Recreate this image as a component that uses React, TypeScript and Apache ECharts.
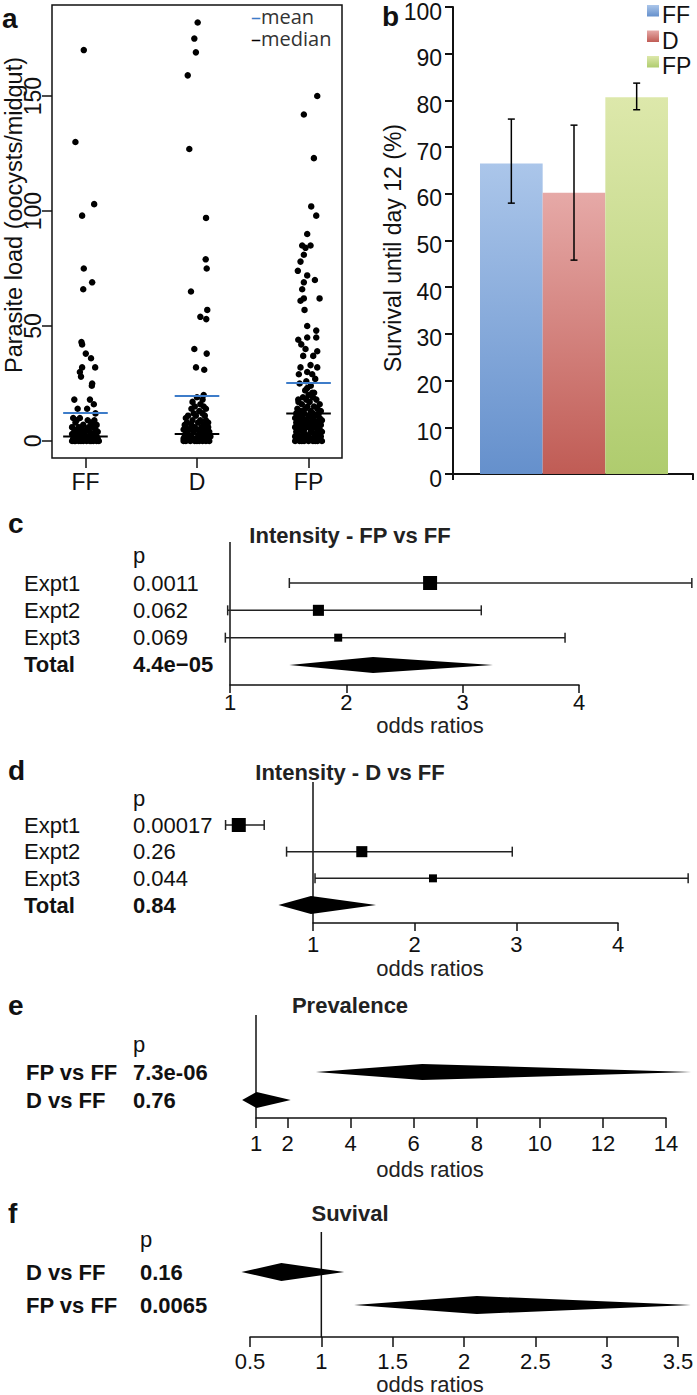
import React, { useEffect, useRef } from "react";
import * as echarts from "echarts";

const FONT = "'Liberation Sans', Arial, Helvetica, sans-serif";
const INK = "#111";

// ---------- Panel a: parasite load (jitter offset, oocysts/midgut) ----------
const groupNames = ["FF", "D", "FP"];
const ffLoad: number[][] = [
  [-0.015, 170], [-0.09, 130], [0.078, 103], [-0.03, 98], [-0.015, 75], [0.06, 69], [-0.02, 66],
  [-0.036, 43], [-0.03, 42], [0.003, 38], [0.05, 36], [-0.03, 32], [0.087, 32], [-0.05, 30],
  [-0.04, 28], [0.06, 25], [0.057, 24], [-0.1, 18], [0.04, 18], [-0.07, 14], [0.015, 14],
  [0.075, 16], [0.09, 12],
  [-0.11, 10], [-0.05, 10], [0.02, 9], [0.08, 9], [-0.09, 8], [0.05, 8], [-0.02, 7], [0.1, 7],
  [-0.12, 6], [-0.06, 6], [0.03, 6], [0.07, 6], [-0.1, 5], [-0.03, 5], [0.01, 5], [0.09, 5],
  [-0.08, 4], [-0.04, 4], [0.04, 4], [0.11, 4], [-0.12, 3], [-0.07, 3], [-0.01, 3], [0.05, 3],
  [0.08, 3], [-0.1, 2], [-0.05, 2], [0, 2], [0.03, 2], [0.07, 2], [0.1, 2], [-0.11, 1],
  [-0.08, 1], [-0.03, 1], [0.02, 1], [0.06, 1], [0.09, 1], [-0.12, 0], [-0.09, 0], [-0.06, 0],
  [-0.02, 0], [0.01, 0], [0.04, 0], [0.07, 0], [0.1, 0], [0.12, 0], [-0.1, 0], [-0.04, 0],
  [0.05, 0], [-0.07, 1], [0.11, 1], [-0.01, 4], [0.06, 7], [-0.08, 9],
];
const dLoad: number[][] = [
  [0.006, 182], [-0.024, 175], [-0.01, 169], [-0.083, 159], [-0.069, 127], [0.081, 97],
  [0.078, 79], [0.087, 75], [-0.054, 65], [0.092, 57], [0.03, 54], [0.083, 53], [-0.024, 40],
  [0.087, 38], [-0.009, 32], [0.065, 31], [0.06, 20],
  [0.0, 19], [0.05, 18], [-0.04, 17], [0.03, 16], [-0.02, 15], [0.06, 15], [-0.05, 14],
  [0.02, 13], [0.08, 14], [-0.03, 12], [0.05, 12], [-0.08, 11], [-0.01, 11], [0.07, 11],
  [-0.1, 10], [-0.04, 9], [0.03, 9], [0.08, 9], [-0.09, 8], [0.01, 8], [0.1, 8], [-0.11, 7],
  [-0.05, 7], [0.06, 7], [-0.1, 6], [-0.02, 6], [0.04, 6], [0.1, 6], [-0.12, 5], [-0.07, 5],
  [0.0, 5], [0.08, 5], [-0.1, 4], [-0.03, 4], [0.05, 4], [0.11, 4], [-0.08, 3], [0.02, 3],
  [0.09, 3], [-0.11, 2], [-0.05, 2], [0.01, 2], [0.06, 2], [0.12, 2], [-0.12, 1], [-0.07, 1],
  [-0.02, 1], [0.04, 1], [0.09, 1], [-0.1, 0], [-0.06, 0], [-0.02, 0], [0.02, 0], [0.05, 0],
  [0.08, 0], [0.11, 0], [-0.12, 0], [0.0, 0],
];
const fpLoad: number[][] = [
  [0.078, 150], [-0.042, 142], [0.048, 123], [0.024, 102], [0.069, 98], [-0.012, 90],
  [-0.057, 85], [0.018, 85], [-0.027, 84], [-0.042, 81], [-0.072, 78], [-0.096, 74],
  [-0.012, 72], [0.057, 70], [-0.042, 69], [-0.057, 66], [-0.072, 61], [-0.042, 62],
  [0.099, 62], [-0.036, 57], [-0.012, 50], [0.069, 48], [-0.092, 44], [-0.012, 45],
  [0.069, 45], [-0.065, 42], [-0.027, 40], [0.078, 39], [-0.048, 37], [0.042, 37],
  [-0.072, 32], [0.018, 33], [0.078, 32], [-0.087, 29], [-0.012, 30], [0.033, 29],
  [-0.012, 23], [0.033, 21], [-0.092, 18],
  [0.02, 24], [-0.03, 22], [0.05, 21], [0.0, 20], [-0.05, 19], [0.04, 19], [-0.02, 18],
  [0.07, 18], [-0.09, 17], [0.01, 17], [0.1, 16], [-0.06, 16], [-0.01, 15], [0.05, 15],
  [-0.1, 14], [-0.03, 14], [0.08, 14], [-0.07, 13], [0.02, 13], [0.11, 13], [-0.11, 12],
  [-0.04, 12], [0.04, 12], [0.09, 12], [-0.08, 11], [0.0, 11], [0.06, 11], [-0.12, 10],
  [-0.05, 10], [0.03, 10], [0.1, 10], [-0.09, 9], [-0.02, 9], [0.05, 9], [0.12, 9],
  [-0.11, 8], [-0.06, 8], [0.01, 8], [0.08, 8], [-0.1, 7], [-0.03, 7], [0.04, 7], [0.11, 7],
  [-0.12, 6], [-0.07, 6], [0.0, 6], [0.07, 6], [-0.09, 5], [-0.04, 5], [0.03, 5], [0.1, 5],
  [-0.11, 4], [-0.05, 4], [0.02, 4], [0.08, 4], [0.12, 4], [-0.1, 3], [-0.03, 3], [0.05, 3],
  [0.1, 3], [-0.12, 2], [-0.07, 2], [0.0, 2], [0.06, 2], [0.11, 2], [-0.1, 1], [-0.04, 1],
  [0.03, 1], [0.09, 1], [-0.12, 0], [-0.08, 0], [-0.04, 0], [0.0, 0], [0.04, 0], [0.08, 0],
  [0.12, 0], [-0.06, 0], [0.06, 0], [-0.02, 26], [0.06, 27], [-0.08, 25],
];
const loadMeans = [12.2, 19.6, 25.2];
const loadMedians = [2, 3, 12];
const loadTicks = [0, 50, 100, 150];
const loadTitle = "Parasite load (oocysts/midgut)";
const loadLegend = ["mean", "median"];

// ---------- Panel b: survival ----------
const survGroups = ["FF", "D", "FP"];
const survValues = [66.5, 60.2, 80.7];
const survLower = [58.0, 45.8, 78.0];
const survUpper = [76.0, 74.7, 83.7];
const survTitle = "Survival until day 12 (%)";

// ---------- Panels c-f: forest plots ----------
const cNames = ["Expt1", "Expt2", "Expt3", "Total"];
const cPvals = ["0.0011", "0.062", "0.069", "4.4e\u221205"];
const cOR = [2.72, 1.76, 1.93, 2.23];
const cLow = [1.51, 0.98, 0.96, 1.51];
const cHigh = [4.97, 3.16, 3.88, 3.26];
const cWeights = [1, 0.79, 0.57, 0];
const cTicks = [1, 2, 3, 4];

const dNames = ["Expt1", "Expt2", "Expt3", "Total"];
const dPvals = ["0.00017", "0.26", "0.044", "0.84"];
const dOR = [0.27, 1.48, 2.18, 0.98];
const dLow = [0.14, 0.74, 1.02, 0.66];
const dHigh = [0.52, 2.96, 4.69, 1.62];
const dWeights = [1, 0.79, 0.57, 0];
const dTicks = [1, 2, 3, 4];

const eNames = ["FP vs FF", "D vs FF"];
const ePvals = ["7.3e-06", "0.76"];
const eOR = [6.27, 1.02];
const eLow = [2.9, 0.56];
const eHigh = [14.8, 2.1];
const eWeights = [0, 0];
const eTicks = [1, 2, 4, 6, 8, 10, 12, 14];

const fNames = ["D vs FF", "FP vs FF"];
const fPvals = ["0.16", "0.0065"];
const fOR = [0.72, 2.09];
const fLow = [0.44, 1.23];
const fHigh = [1.16, 3.59];
const fWeights = [0, 0];
const fTicks = [0.5, 1, 1.5, 2, 2.5, 3, 3.5];

const forestTitles = ["Intensity - FP vs FF", "Intensity - D vs FF", "Prevalence", "Suvival"];
const forestXLabel = "odds ratios";

// ---------- layout / style ----------
const MEAN_BLUE = "#3d7cc9";
const HALF_LINE = 0.2;
const BOX_MAX = 14;

const barColors = [
  ["#abc6ea", "#6590cc"],
  ["#e6a9a7", "#c05c55"],
  ["#dde8ab", "#afcc6e"],
];

const forestLayout = [
  { letter: "c", left: 230, width: 349, top: 542, bottom: 685, row1: 583, rowPx: 27.33, nameX: 24, pX: 133, tickLen: 8, margin: 6, half: 8, titleY: 535, letterY: 523, xlabY: 725, allBold: false },
  { letter: "d", left: 313, width: 305, top: 782, bottom: 923, row1: 825, rowPx: 26.67, nameX: 24, pX: 133, tickLen: 8, margin: 10, half: 9, titleY: 772, letterY: 770, xlabY: 968, allBold: false },
  { letter: "e", left: 256, width: 410, top: 1015, bottom: 1118, row1: 1072, rowPx: 28, nameX: 26, pX: 133, tickLen: 10, margin: 14, half: 8, titleY: 1005, letterY: 1005, xlabY: 1169, allBold: true },
  { letter: "f", left: 250, width: 428, top: 1232, bottom: 1337, row1: 1272, rowPx: 33, nameX: 26, pX: 140, tickLen: 10, margin: 13, half: 9, titleY: 1213, letterY: 1213, xlabY: 1384, allBold: true },
];

const forestData = [
  { names: cNames, p: cPvals, or: cOR, lo: cLow, hi: cHigh, w: cWeights, ticks: cTicks },
  { names: dNames, p: dPvals, or: dOR, lo: dLow, hi: dHigh, w: dWeights, ticks: dTicks },
  { names: eNames, p: ePvals, or: eOR, lo: eLow, hi: eHigh, w: eWeights, ticks: eTicks },
  { names: fNames, p: fPvals, or: fOR, lo: fLow, hi: fHigh, w: fWeights, ticks: fTicks },
];

function grad(c: string[]) {
  return new echarts.graphic.LinearGradient(0, 0, 0, 1, [
    { offset: 0, color: c[0] },
    { offset: 1, color: c[1] },
  ]);
}

function buildOption() {
  const grids: any[] = [];
  const xAxes: any[] = [];
  const yAxes: any[] = [];
  const series: any[] = [];
  const graphics: any[] = [];
  const axisLine = { color: INK, width: 1.5 };

  // ===== Panel a =====
  grids.push({ left: 52, top: 5, width: 290, height: 453, show: true, borderColor: INK, borderWidth: 1.5, containLabel: false, outerBoundsMode: "none" });
  xAxes.push({
    gridIndex: 0, type: "value", min: 0.7, max: 3.3,
    axisLine: { show: false, onZero: false }, splitLine: { show: false },
    axisTick: { show: true, customValues: [1, 2, 3], length: 10, lineStyle: axisLine },
    axisLabel: { customValues: [1, 2, 3], formatter: (v: number) => groupNames[Math.round(v) - 1], fontSize: 23, fontFamily: FONT, color: INK, margin: 12 },
  });
  yAxes.push({
    gridIndex: 0, type: "value", min: -7.4, max: 189.6,
    axisLine: { show: false, onZero: false }, splitLine: { show: false },
    axisTick: { show: true, customValues: loadTicks, length: 10, lineStyle: axisLine },
    axisLabel: { customValues: loadTicks, rotate: 90, fontSize: 23, fontFamily: FONT, color: INK, margin: 8 },
  });
  [ffLoad, dLoad, fpLoad].forEach((pts, gi) => {
    series.push({
      type: "scatter", xAxisIndex: 0, yAxisIndex: 0, symbolSize: 6.5, z: 2,
      itemStyle: { color: "#000", opacity: 1 },
      data: pts.map(([dx, v]) => [gi + 1 + dx, v]),
    });
  });
  const hline = (vals: number[], color: string) => ({
    type: "custom", xAxisIndex: 0, yAxisIndex: 0, z: 4,
    data: vals.map((m, i) => [i + 1, m]),
    renderItem: (_p: any, api: any) => {
      const a = api.coord([api.value(0) - HALF_LINE, api.value(1)]);
      const b = api.coord([api.value(0) + HALF_LINE, api.value(1)]);
      return { type: "line", shape: { x1: a[0], y1: a[1], x2: b[0], y2: b[1] }, style: { stroke: color, lineWidth: 2 } };
    },
  });
  series.push(hline(loadMeans, MEAN_BLUE));
  series.push(hline(loadMedians, "#000"));

  graphics.push({ type: "text", x: 2, y: 18, style: { text: "a", fontSize: 28, fontWeight: "bold", fontFamily: FONT, fill: INK, align: "left", verticalAlign: "middle" } });
  graphics.push({ type: "text", x: 14, y: 215, rotation: Math.PI / 2, style: { text: loadTitle, fontSize: 23.5, fontFamily: FONT, fill: INK, align: "center", verticalAlign: "middle" } });
  [MEAN_BLUE, "#000"].forEach((c, i) => {
    graphics.push({
      type: "text", x: 251, y: 16 + i * 22,
      style: {
        text: `{d|\u2013}{t|${loadLegend[i]}}`, align: "left", verticalAlign: "middle",
        rich: {
          d: { fill: c, fontSize: 20, lineHeight: 19, fontFamily: "'Open Sans', sans-serif" },
          t: { fill: "#333", fontSize: 20, lineHeight: 19, fontFamily: "'Open Sans', sans-serif" },
        },
      },
    });
  });

  // ===== Panel b =====
  grids.push({ left: 453, top: 7, width: 240, height: 467, containLabel: false, outerBoundsMode: "none" });
  xAxes.push({
    gridIndex: 1, type: "value", min: 0, max: 1,
    axisLine: { show: true, onZero: false, lineStyle: { color: INK, width: 2 } },
    axisTick: { show: true, customValues: [0, 1], length: 6, lineStyle: { color: INK, width: 2 } },
    axisLabel: { show: false }, splitLine: { show: false },
  });
  yAxes.push({
    gridIndex: 1, type: "value", min: 0, max: 100, interval: 10,
    axisLine: { show: true, onZero: false, lineStyle: { color: INK, width: 2 } },
    axisTick: { show: true, length: 8, lineStyle: { color: INK, width: 2 } },
    axisLabel: {
      margin: 11,
      formatter: (v: number) => `{v|${v}}`,
      rich: { v: { fontSize: 23, fontFamily: FONT, color: INK, padding: [9, 0, 0, 0] } },
    },
    splitLine: { show: false },
  });
  grids.push({ left: 480, top: 7, width: 188, height: 467, containLabel: false, outerBoundsMode: "none" });
  xAxes.push({ gridIndex: 2, type: "category", data: survGroups, show: false });
  yAxes.push({ gridIndex: 2, type: "value", min: 0, max: 100, show: false });
  series.push({
    type: "bar", xAxisIndex: 2, yAxisIndex: 2, barWidth: "100%", barCategoryGap: 0, z: 1,
    data: survValues.map((v, i) => ({ value: v, itemStyle: { color: grad(barColors[i]) } })),
  });
  series.push({
    type: "custom", xAxisIndex: 2, yAxisIndex: 2, z: 5,
    data: survGroups.map((_g, i) => [i, survLower[i], survUpper[i]]),
    encode: { x: 0, y: [1, 2] },
    renderItem: (_p: any, api: any) => {
      const lo = api.coord([api.value(0), api.value(1)]);
      const hi = api.coord([api.value(0), api.value(2)]);
      const st = { stroke: "#000", lineWidth: 1.5 };
      return {
        type: "group",
        children: [
          { type: "line", shape: { x1: lo[0], y1: lo[1], x2: hi[0], y2: hi[1] }, style: st },
          { type: "line", shape: { x1: lo[0] - 3.5, y1: lo[1], x2: lo[0] + 3.5, y2: lo[1] }, style: st },
          { type: "line", shape: { x1: hi[0] - 3.5, y1: hi[1], x2: hi[0] + 3.5, y2: hi[1] }, style: st },
        ],
      };
    },
  });
  graphics.push({ type: "text", x: 382, y: 16, style: { text: "b", fontSize: 28, fontWeight: "bold", fontFamily: FONT, fill: INK, align: "left", verticalAlign: "middle" } });
  graphics.push({ type: "text", x: 393, y: 248, rotation: Math.PI / 2, style: { text: survTitle, fontSize: 23, fontFamily: FONT, fill: INK, align: "center", verticalAlign: "middle" } });
  survGroups.forEach((g, i) => {
    graphics.push({ type: "rect", shape: { x: 647, y: 5 + i * 25.5, width: 12, height: 11.5 }, style: { fill: grad(barColors[i]) } });
    graphics.push({ type: "text", x: 662, y: 15 + i * 25.5, style: { text: g, fontSize: 23, fontFamily: FONT, fill: INK, align: "left", verticalAlign: "middle" } });
  });

  // ===== Panels c-f =====
  forestData.forEach((f, k) => {
    const L = forestLayout[k];
    const gi = 3 + k;
    const yMin = 1 - (L.row1 - L.top) / L.rowPx;
    const yMax = 1 + (L.bottom - L.row1) / L.rowPx;
    const rows = f.names.map((_n, i) => i);
    const labelVals = [0, ...rows.map((i) => i + 1)];
    const nameW = L.pX - L.nameX;
    grids.push({ left: L.left, width: L.width, top: L.top, height: L.bottom - L.top, containLabel: false, outerBoundsMode: "none" });
    xAxes.push({
      gridIndex: gi, type: "value", min: f.ticks[0], max: f.ticks[f.ticks.length - 1],
      axisLine: { show: true, onZero: false, lineStyle: axisLine },
      axisTick: { show: true, customValues: f.ticks, length: L.tickLen, lineStyle: axisLine },
      axisLabel: { customValues: f.ticks, fontSize: 22, fontFamily: FONT, color: INK, margin: L.margin, showMinLabel: true, showMaxLabel: true },
      splitLine: { show: false },
    });
    yAxes.push({
      gridIndex: gi, type: "value", inverse: true, min: yMin, max: yMax,
      axisLine: { show: false, onZero: false }, axisTick: { show: false }, splitLine: { show: false },
      axisLabel: {
        customValues: labelVals, align: "left", margin: L.left - L.nameX, showMinLabel: true, showMaxLabel: true,
        formatter: (v: number) => {
          const r = Math.round(v);
          if (r === 0) return `{n| }{p|p}`;
          const i = r - 1;
          const bold = L.allBold || i === f.names.length - 1;
          return bold ? `{nb|${f.names[i]}}{pb|${f.p[i]}}` : `{n|${f.names[i]}}{p|${f.p[i]}}`;
        },
        rich: {
          n: { width: nameW, fontSize: 22, fontFamily: FONT, color: INK, align: "left" },
          p: { fontSize: 22, fontFamily: FONT, color: INK, align: "left" },
          nb: { width: nameW, fontSize: 22, fontFamily: FONT, color: INK, fontWeight: "bold", align: "left" },
          pb: { fontSize: 22, fontFamily: FONT, color: INK, fontWeight: "bold", align: "left" },
        },
      },
    });
    series.push({
      type: "line", xAxisIndex: gi, yAxisIndex: gi, symbol: "none", z: 2,
      lineStyle: { color: INK, width: 1.5 },
      data: [[1, yMin], [1, yMax]],
    });
    series.push({
      type: "custom", xAxisIndex: gi, yAxisIndex: gi, z: 3, clip: false,
      encode: { x: [0, 1, 2], y: 3 },
      data: rows.map((i) => [f.lo[i], f.or[i], f.hi[i], i + 1, f.w[i]]),
      renderItem: (_p: any, api: any) => {
        const row = api.value(3);
        const pLo = api.coord([api.value(0), row]);
        const pE = api.coord([api.value(1), row]);
        const pHi = api.coord([api.value(2), row]);
        const w = api.value(4);
        if (w > 0) {
          const s = w * BOX_MAX;
          const st = { stroke: "#222", lineWidth: 1.5 };
          return {
            type: "group",
            children: [
              { type: "line", shape: { x1: pLo[0], y1: pLo[1], x2: pHi[0], y2: pHi[1] }, style: st },
              { type: "line", shape: { x1: pLo[0], y1: pLo[1] - 5, x2: pLo[0], y2: pLo[1] + 5 }, style: st },
              { type: "line", shape: { x1: pHi[0], y1: pHi[1] - 5, x2: pHi[0], y2: pHi[1] + 5 }, style: st },
              { type: "rect", shape: { x: pE[0] - s / 2, y: pE[1] - s / 2, width: s, height: s }, style: { fill: "#000" } },
            ],
          };
        }
        return {
          type: "polygon",
          shape: { points: [[pLo[0], pLo[1]], [pE[0], pE[1] - L.half], [pHi[0], pHi[1]], [pE[0], pE[1] + L.half]] },
          style: { fill: "#000" },
        };
      },
    });
    graphics.push({ type: "text", x: 8, y: L.letterY, style: { text: L.letter, fontSize: 28, fontWeight: "bold", fontFamily: FONT, fill: INK, align: "left", verticalAlign: "middle" } });
    graphics.push({ type: "text", x: 350, y: L.titleY, style: { text: forestTitles[k], fontSize: 22, fontWeight: "bold", fontFamily: FONT, fill: "#222", align: "center", verticalAlign: "middle" } });
    graphics.push({ type: "text", x: 430, y: L.xlabY, style: { text: forestXLabel, fontSize: 22, fontFamily: FONT, fill: "#222", align: "center", verticalAlign: "middle" } });
  });

  return {
    animation: false,
    backgroundColor: "#fff",
    grid: grids,
    xAxis: xAxes,
    yAxis: yAxes,
    series,
    graphic: { elements: graphics },
  };
}

export default function App() {
  const ref = useRef<HTMLDivElement>(null);
  useEffect(() => {
    const chart = echarts.init(ref.current!, null, { renderer: "svg" });
    chart.setOption(buildOption() as any);
    return () => chart.dispose();
  }, []);
  return (
    <div
      ref={ref}
      style={{ position: "absolute", left: 0, top: 0, width: 697, height: 1395, background: "#fff" }}
    />
  );
}
